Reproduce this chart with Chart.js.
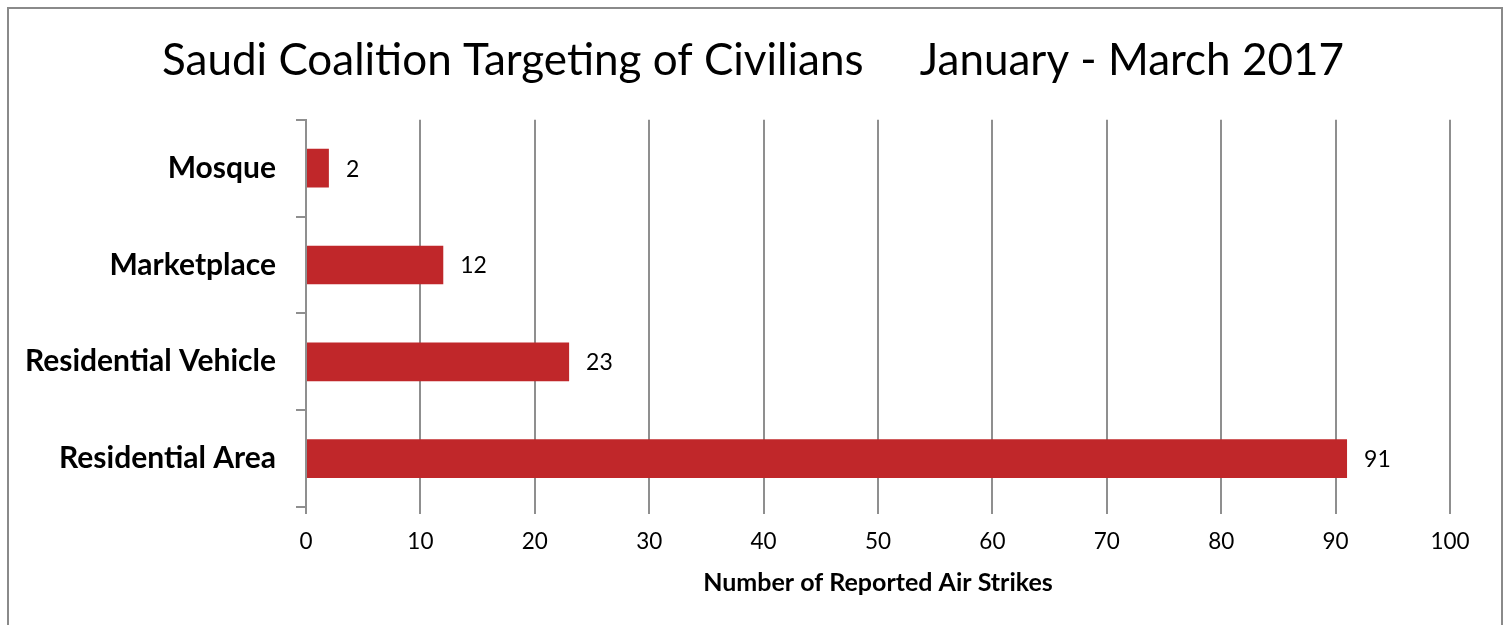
<!DOCTYPE html>
<html>
<head>
<meta charset="utf-8">
<script src="https://cdn.jsdelivr.net/npm/chart.js@4.4.1/dist/chart.umd.min.js"></script>
<style>
  html, body { margin: 0; padding: 0; background: #fff; }
  #wrap { position: relative; width: 1506px; height: 625px; }
  canvas { display: block; }
</style>
</head>
<body>
<div id="wrap"><canvas id="c" width="1506" height="625"></canvas></div>
<script>
const categories = ["Mosque", "Marketplace", "Residential Vehicle", "Residential Area"];
const strikes = [2, 12, 23, 91];
const xTicks = [0, 10, 20, 30, 40, 50, 60, 70, 80, 90, 100];
const chartTitle = "Saudi Coalition Targeting of Civilians     January - March 2017";
const xAxisTitle = "Number of Reported Air Strikes";

const FONT = "Lato, 'Open Sans', sans-serif";

const frame = {
  id: 'frame',
  afterLayout(chart) {
    if (chart.titleBlock) {
      chart.titleBlock.left = 0;
      chart.titleBlock.right = chart.width;
    }
  },
  beforeDraw(chart) {
    const ctx = chart.ctx;
    ctx.save();
    ctx.fillStyle = '#fff';
    ctx.fillRect(0, 0, chart.width, chart.height);
    ctx.strokeStyle = '#8a8a8a';
    ctx.lineWidth = 2;
    ctx.strokeRect(8, 8, 1494, 700);
    ctx.restore();
  }
};

const valueLabels = {
  id: 'valueLabels',
  afterDatasetsDraw(chart) {
    const ctx = chart.ctx;
    const meta = chart.getDatasetMeta(0);
    ctx.save();
    ctx.font = "23px " + FONT;
    ctx.fillStyle = '#000';
    ctx.textAlign = 'left';
    ctx.textBaseline = 'middle';
    meta.data.forEach((bar, i) => {
      ctx.fillText(String(chart.data.datasets[0].data[i]), bar.x + 17, bar.y + 1);
    });
    ctx.restore();
  }
};

new Chart(document.getElementById('c'), {
  type: 'bar',
  data: {
    labels: categories,
    datasets: [{
      data: strikes,
      backgroundColor: '#C0272A',
      borderWidth: 0,
      categoryPercentage: 0.4,
      barPercentage: 1.0
    }]
  },
  options: {
    indexAxis: 'y',
    responsive: false,
    animation: false,
    devicePixelRatio: 1,
    layout: { padding: { left: 10, right: 56, top: 0, bottom: 0 } },
    plugins: {
      legend: { display: false },
      tooltip: { enabled: false },
      title: {
        display: true,
        text: chartTitle,
        color: '#000',
        font: { family: FONT, size: 44, weight: 'normal', lineHeight: 1.2 },
        padding: { top: 34, bottom: 33 }
      }
    },
    scales: {
      x: {
        min: 0,
        max: 100,
        afterBuildTicks(scale) { scale.ticks = xTicks.map(v => ({ value: v })); },
        afterFit(scale) { scale.height = 118; },
        grid: { color: '#8f8f8f', lineWidth: 2, tickLength: 7, drawTicks: true },
        border: { display: false },
        ticks: {
          color: '#000',
          font: { family: FONT, size: 22.5 },
          padding: 14,
          maxRotation: 0
        },
        title: {
          display: true,
          text: xAxisTitle,
          color: '#000',
          font: { family: FONT, size: 25, weight: 'bold', lineHeight: 1.2 },
          padding: { top: 0, bottom: 27 }
        }
      },
      y: {
        afterFit(scale) { scale.width = 296; },
        grid: { offset: true, drawOnChartArea: false, drawTicks: true, tickLength: 10, color: '#8f8f8f', lineWidth: 2 },
        border: { display: true, color: '#8f8f8f', width: 2 },
        ticks: {
          color: '#000',
          font: { family: FONT, size: 30, weight: 'bold' },
          padding: 20
        }
      }
    }
  },
  plugins: [frame, valueLabels]
});
</script>
</body>
</html>
